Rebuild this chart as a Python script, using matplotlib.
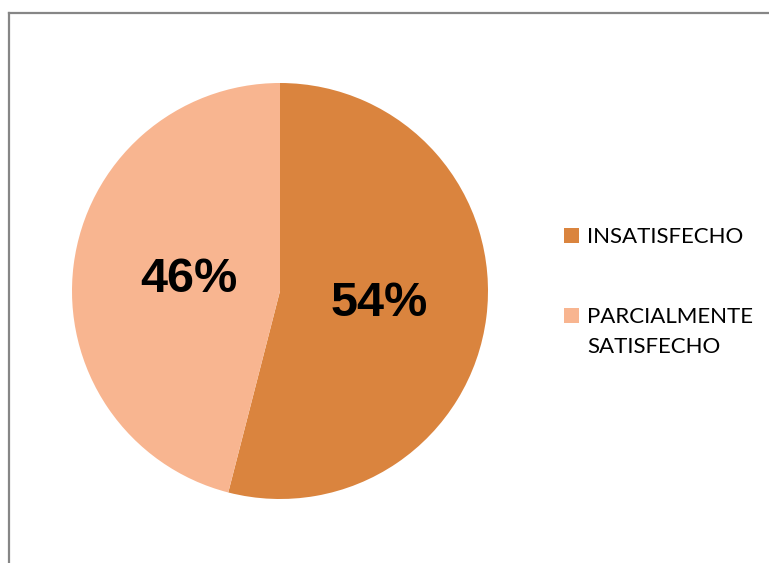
import numpy as np
import matplotlib
matplotlib.use("Agg")
import matplotlib.pyplot as plt
from matplotlib.patches import Rectangle
from matplotlib.lines import Line2D

categories = ["INSATISFECHO", "PARCIALMENTE\nSATISFECHO"]
values = [54, 46]
colors = ["#DA843E", "#F8B590"]
label_dist = [0.48, 0.44]

W, H = 769, 563
fig = plt.figure(figsize=(W / 100, H / 100), dpi=100)
fig.patch.set_facecolor("white")

# outer chart frame (left and top edges visible)
fx0, fy0 = 8.5 / W, 1 - 12.5 / H
fig.add_artist(Line2D([fx0, fx0], [fy0, -0.1], transform=fig.transFigure,
                      color="#868686", lw=1.6))
fig.add_artist(Line2D([fx0, 1.1], [fy0, fy0], transform=fig.transFigure,
                      color="#868686", lw=1.6))

# pie axes: center (280, 291) px, radius 208 px
cx, cy, r = 280, 291, 208
ax = fig.add_axes([(cx - r) / W, 1 - (cy + r) / H, 2 * r / W, 2 * r / H])
wedges, _, autotexts = ax.pie(
    values, colors=colors, startangle=90, counterclock=False,
    autopct=lambda p: f"{p:.0f}%", pctdistance=0.46,
    textprops=dict(family="Liberation Sans", fontweight="bold",
                   fontsize=35, color="black"),
    wedgeprops=dict(linewidth=0))
for w, t, d in zip(wedges, autotexts, label_dist):
    ang = np.deg2rad((w.theta1 + w.theta2) / 2)
    t.set_position((d * np.cos(ang), d * np.sin(ang)))
    t.set_va("center")
    t.set_ha("center")
ax.set_xlim(-1, 1)
ax.set_ylim(-1, 1)
ax.set_aspect("equal")
ax.axis("off")

# legend
leg_y = [235.5, 315.5]
for cat, col, y in zip(categories, colors, leg_y):
    fig.add_artist(Rectangle((564 / W, 1 - (y + 7.5) / H), 15 / W, 15 / H,
                             transform=fig.transFigure, color=col, lw=0))
    fig.text(587 / W, 1 - (y - 8.5) / H, cat, family="Lato", fontsize=16,
             color="black", va="top", ha="left", linespacing=1.6)

fig.savefig("out.png", dpi=100, facecolor="white")
